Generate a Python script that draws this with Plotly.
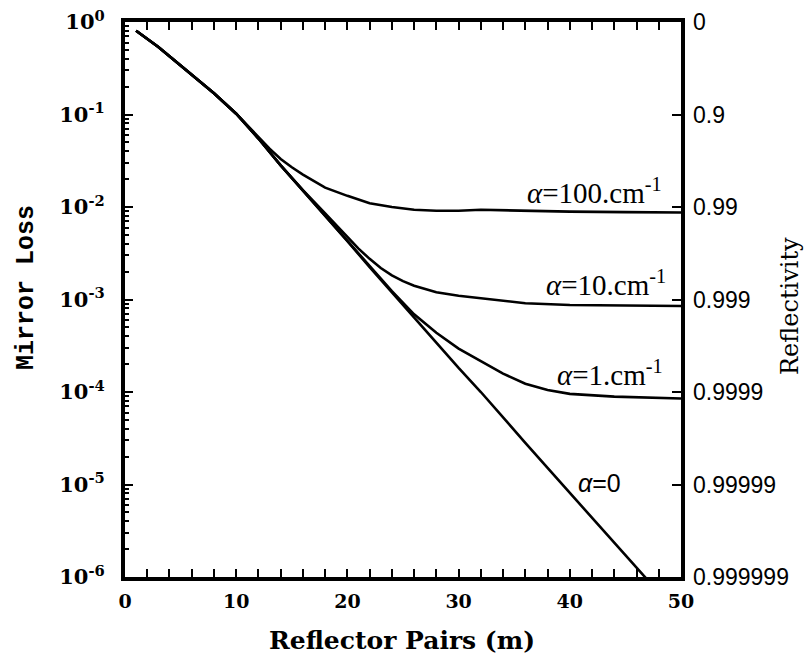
import math
import plotly.graph_objects as go

# ---------------- data ----------------
m_a0 = [1, 2, 3, 4, 5, 6, 8, 10, 12, 14, 16, 18, 20, 22, 24, 26, 28, 30, 32, 34,
        36, 38, 40, 42, 44, 46, 48]
loss_a0 = [0.805, 0.661, 0.537, 0.427, 0.339, 0.272, 0.170, 0.102, 0.0550, 0.0282,
           0.0151, 0.00794, 0.00427, 0.00224, 0.00120, 6.31e-4, 3.39e-4, 1.82e-4,
           1.0e-4, 5.25e-5, 2.82e-5, 1.51e-5, 8.13e-6, 4.37e-6, 2.34e-6, 1.26e-6, 6.8e-7]

m_a100 = [1, 2, 3, 4, 5, 6, 8, 10, 12, 13, 14, 15, 16, 17, 18, 20, 22, 24, 26, 28,
          30, 32, 35, 40, 45, 50]
loss_a100 = [0.805, 0.661, 0.537, 0.427, 0.339, 0.272, 0.170, 0.102, 0.0575, 0.0427,
             0.0331, 0.0269, 0.0224, 0.0191, 0.0162, 0.0132, 0.0110, 0.0100, 0.00933,
             0.00912, 0.00912, 0.00933, 0.00912, 0.00891, 0.00881, 0.00871]

m_a10 = [1, 2, 3, 4, 5, 6, 8, 10, 12, 14, 16, 18, 19, 20, 21, 22, 23, 24, 25, 26,
         28, 30, 33, 36, 40, 45, 50]
loss_a10 = [0.805, 0.661, 0.537, 0.427, 0.339, 0.272, 0.170, 0.102, 0.0550, 0.0282,
             0.0152, 0.00851, 0.00631, 0.00479, 0.00355, 0.00275, 0.00219, 0.00182,
             0.00158, 0.00141, 0.00120, 0.00110, 0.00100, 9.12e-4, 8.71e-4, 8.61e-4,
             8.51e-4]

m_a1 = [1, 2, 3, 4, 5, 6, 8, 10, 12, 14, 16, 18, 20, 22, 24, 26, 28, 30, 32, 34, 36,
        38, 40, 44, 50]
loss_a1 = [0.805, 0.661, 0.537, 0.427, 0.339, 0.272, 0.170, 0.102, 0.0550, 0.0282,
           0.0151, 0.00794, 0.00427, 0.00226, 1.23e-3, 6.92e-4, 4.37e-4, 2.95e-4,
           2.14e-4, 1.58e-4, 1.23e-4, 1.05e-4, 9.55e-5, 8.91e-5, 8.51e-5]

x_ticks = [0, 10, 20, 30, 40, 50]
x_minor = [2, 4, 6, 8, 12, 14, 16, 18, 22, 24, 26, 28, 32, 34, 36, 38, 42, 44, 46, 48]
loss_ticks = [1, 1e-1, 1e-2, 1e-3, 1e-4, 1e-5, 1e-6]
loss_ticktext = ["10<sup>0</sup>", "10<sup>-1</sup>", "10<sup>-2</sup>", "10<sup>-3</sup>",
                 "10<sup>-4</sup>", "10<sup>-5</sup>", "10<sup>-6</sup>"]
refl_ticktext = ["0", "0.9", "0.99", "0.999", "0.9999", "0.99999", "0.999999"]
loss_minor = [k * 10.0 ** e for e in range(-6, 0) for k in range(2, 10)]

labels = ["<i>α</i>=100.cm<sup>-1</sup>", "<i>α</i>=10.cm<sup>-1</sup>",
          "<i>α</i>=1.cm<sup>-1</sup>", "<i>α</i>=0"]
# label anchor positions (x in m, y in loss)
label_x = [48.5, 48.8, 48.6, 42.7]
label_y = [0.0150, 0.00150, 0.000160, 1.05e-5]

# ---------------- figure ----------------
W, H = 807, 663
ML, MR, MT, MB = 125, 126, 22, 86
PW, PH = W - ML - MR, H - MT - MB

MONO = "Liberation Mono, Courier New, monospace"
SERIF = "Liberation Serif, Times New Roman, serif"
DSERIF = "DejaVu Serif, serif"
SANS = "Liberation Sans, Arial, sans-serif"

fig = go.Figure()
line = dict(color="black", width=2.6)
fig.add_trace(go.Scatter(x=m_a100, y=loss_a100, mode="lines", line=line, showlegend=False))
fig.add_trace(go.Scatter(x=m_a10, y=loss_a10, mode="lines", line=line, showlegend=False))
fig.add_trace(go.Scatter(x=m_a1, y=loss_a1, mode="lines", line=line, showlegend=False))
fig.add_trace(go.Scatter(x=m_a0, y=loss_a0, mode="lines", line=line, showlegend=False,
                         yaxis="y2"))

fig.update_layout(
    width=W, height=H,
    margin=dict(l=ML, r=MR, t=MT, b=MB),
    paper_bgcolor="white", plot_bgcolor="white",
    xaxis=dict(
        range=[0, 50], tickmode="array", tickvals=x_ticks,
        ticks="inside", ticklen=8, tickwidth=2, tickcolor="black",
        minor=dict(tickmode="array", tickvals=x_minor, ticks="inside", ticklen=4,
                   tickwidth=1.5, tickcolor="black", showgrid=False),
        showgrid=False, zeroline=False, automargin=False,
        showline=True, linewidth=4, linecolor="black", mirror="allticks",
        ticklabelstandoff=4,
        tickfont=dict(family=DSERIF, size=19, color="black", weight="bold"),
    ),
    yaxis=dict(
        type="log", range=[-6, 0], tickmode="array", tickvals=loss_ticks,
        ticktext=loss_ticktext,
        ticks="inside", ticklen=8, tickwidth=2, tickcolor="black",
        minor=dict(tickmode="array", tickvals=loss_minor, ticks="inside", ticklen=4,
                   tickwidth=1.5, tickcolor="black", showgrid=False),
        showgrid=False, zeroline=False, automargin=False,
        showline=True, linewidth=4, linecolor="black", mirror=True,
        ticklabelstandoff=12,
        tickfont=dict(family=DSERIF, size=21, color="black", weight="bold"),
    ),
    yaxis2=dict(
        type="log", range=[-6, 0], overlaying="y", side="right",
        tickmode="array", tickvals=loss_ticks, ticktext=refl_ticktext,
        ticks="inside", ticklen=9, tickwidth=2, tickcolor="black",
        showgrid=False, zeroline=False, showline=False, automargin=False,
        ticklabelstandoff=11,
        tickfont=dict(family=SANS, size=23, color="black"),
    ),
)

# ---- axis titles ----
fig.add_annotation(text="Mirror Loss", xref="paper", yref="paper",
                   x=(26 - ML) / PW, y=(H - MB - 288) / PH, textangle=-90,
                   showarrow=False, xanchor="center", yanchor="middle",
                   font=dict(family=MONO, size=25, color="black", weight="bold"))
fig.add_annotation(text="Reflectivity", xref="paper", yref="paper",
                   x=(790 - ML) / PW, y=(H - MB - 306) / PH, textangle=-90,
                   showarrow=False, xanchor="center", yanchor="middle",
                   font=dict(family=DSERIF, size=24, color="black"))
fig.add_annotation(text="Reflector Pairs (m)", xref="paper", yref="paper",
                   x=(402 - ML) / PW, y=(H - MB - 640) / PH,
                   showarrow=False, xanchor="center", yanchor="middle",
                   font=dict(family=DSERIF, size=25, color="black", weight="bold"))

# ---- curve labels ----
for i, txt in enumerate(labels):
    is_zero = i == 3
    fig.add_annotation(
        x=label_x[i], y=math.log10(label_y[i]), xref="x", yref="y",
        text=txt, showarrow=False,
        xanchor="center" if is_zero else "right", yanchor="middle",
        font=dict(family=SANS, size=25, color="black") if is_zero
        else dict(family=SERIF, size=29, color="black"),
    )

fig.write_html("out.html")
